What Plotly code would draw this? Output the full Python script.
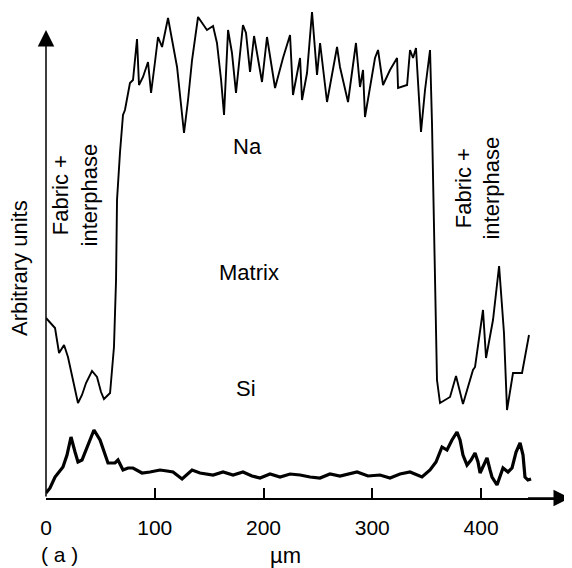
import plotly.graph_objects as go

# Na profile (upper curve), position in µm and intensity in arbitrary units
na_x = [0, 3.7, 8.3, 12, 16.6, 20.2, 24.8, 29.4, 33.1, 36.8, 42.3, 46.9, 50.6, 53.3, 58.9,
        62.5, 64.4, 65.3, 68, 70.8, 72.6, 77.2, 80, 83.7, 85.5, 89.2, 93.8, 96.6, 100.2,
        103, 106.7, 112.2, 120.5, 126.9, 130.6, 134.3, 139.8, 148, 153.6, 157.2, 161,
        163.7, 167.4, 171, 174.7, 181.1, 183.9, 187.6, 191.3, 198.6, 203.2, 210.6, 217.9,
        224.4, 227.1, 233.6, 235.4, 240, 244.6, 249.2, 252, 258.4, 267.6, 270.3, 277.7,
        285, 288.7, 291.5, 293.3, 302.5, 305.3, 309.9, 316.3, 322.8, 323.7, 332, 334.7,
        337.5, 340.2, 344.8, 348.5, 353.1, 354.9, 357.7, 359.5, 362.3, 371.5, 377, 383.4,
        392.6, 394.5, 401.8, 404.6, 411, 416.6, 421.1, 423.9, 429.4, 437.7, 444.1]
na_y = [180, 176, 170, 145, 153, 141, 118, 95, 103, 115, 127, 121, 106, 99, 105,
        151, 218, 298, 345, 383, 388, 415, 418, 459, 413, 421, 436, 405, 436,
        461, 451, 480, 431, 365, 398, 438, 481, 468, 472, 455, 418,
        383, 468, 445, 405, 473, 465, 426, 462, 416, 461, 410, 440,
        463, 403, 440, 398, 425, 486, 423, 455, 396, 451, 431, 396,
        455, 411, 428, 381, 440, 448, 413, 428, 440, 410, 413, 448,
        440, 450, 366, 408, 448, 375, 198, 118, 95, 101, 122, 94,
        128, 131, 188, 140, 178, 232, 165, 88, 125, 125, 163]

# Si profile (lower curve)
si_x = [0, 3.7, 8.3, 15.6, 19.3, 23, 26.7, 29.4, 33.1, 36.8, 40.5, 44.1, 49.7, 53.3, 57,
        63.4, 66.2, 70.8, 75.4, 80, 88.3, 95.6, 104.8, 111.3, 116.8, 125.1, 129.7, 134.3,
        141.6, 153.6, 162.8, 172, 181.1, 189.4, 196.8, 206, 215.2, 224.4, 233.6, 242.8,
        251.9, 261.1, 270.3, 286, 296.1, 307.1, 316.3, 325.5, 334.7, 345.7, 353.1, 358.6,
        364.1, 368.7, 373.3, 377.9, 380.7, 383.4, 387.1, 390.8, 394.5, 397.2, 399.1, 402.8,
        405.5, 408.3, 410.1, 414.7, 417.5, 420.2, 424.8, 428.5, 432.2, 435.9, 438.6, 440.4,
        443.1, 446]
si_y = [5, 10, 21, 31, 43, 61, 46, 36, 38, 48, 60, 68, 58, 46, 35,
        35, 38, 28, 30, 30, 25, 26, 28, 27, 26, 19, 24, 28,
        25, 23, 26, 23, 26, 22, 20, 24, 21, 24, 23, 21,
        20, 24, 22, 26, 22, 23, 20, 24, 26, 21, 28, 36,
        51, 48, 58, 66, 58, 43, 33, 38, 45, 36, 25, 33,
        40, 28, 21, 13, 23, 30, 26, 30, 46, 55, 43, 21,
        18, 19]

x_ticks = [0, 100, 200, 300, 400]
x_tick_labels = ["0", "100", "200", "300", "400"]

FONT = "Liberation Sans, Arial, Helvetica, sans-serif"
X_END = 481.8
Y_TOP = 468

fig = go.Figure()
fig.add_trace(go.Scatter(x=na_x, y=na_y, mode="lines", name="Na",
                         line=dict(color="black", width=1.9), showlegend=False))
fig.add_trace(go.Scatter(x=si_x, y=si_y, mode="lines", name="Si",
                         line=dict(color="black", width=3.2), showlegend=False))

fig.update_xaxes(range=[0, X_END], showgrid=False, zeroline=False,
                 showline=True, linecolor="black", linewidth=1.5,
                 ticks="inside", ticklen=10, tickwidth=1.5, tickcolor="black",
                 tickvals=x_ticks, ticktext=x_tick_labels, ticklabelstandoff=10,
                 tickfont=dict(family=FONT, size=21, color="black"))
fig.update_yaxes(range=[0, 490], showgrid=False, zeroline=False, showline=False,
                 showticklabels=False, ticks="")

# axis arrows
fig.add_annotation(x=0, y=Y_TOP, ax=0, ay=0, xref="x", yref="y", axref="x", ayref="y",
                   text="", showarrow=True, arrowhead=2, arrowsize=2.2, arrowwidth=1.5,
                   arrowcolor="black")
fig.add_annotation(x=X_END, y=0, ax=X_END - 40, ay=0, xref="x", yref="y", axref="x", ayref="y",
                   text="", showarrow=True, arrowhead=2, arrowsize=2.2, arrowwidth=1.5,
                   arrowcolor="black")

lab = dict(family=FONT, size=22, color="black")
c = dict(showarrow=False, xanchor="center", yanchor="middle")
fig.add_annotation(x=185.7, y=352, xref="x", yref="y", text="Na", font=lab, **c)
fig.add_annotation(x=186.7, y=226, xref="x", yref="y", text="Matrix", font=lab, **c)
fig.add_annotation(x=184, y=110, xref="x", yref="y", text="Si", font=lab, **c)
fig.add_annotation(x=27.1, y=303, xref="x", yref="y", text="Fabric +<br>interphase",
                   textangle=-90, font=lab, align="center", **c)
fig.add_annotation(x=396.8, y=310, xref="x", yref="y", text="Fabric +<br>interphase",
                   textangle=-90, font=lab, align="center", **c)
fig.add_annotation(x=-0.0515, y=230, xref="paper", yref="y", text="Arbitrary units",
                   textangle=-90, font=lab, **c)
fig.add_annotation(x=0.0267, y=-0.1163, xref="paper", yref="paper", text="( a )",
                   font=dict(family=FONT, size=21, color="black"), **c)
fig.add_annotation(x=0.458, y=-0.118, xref="paper", yref="paper", text="µm",
                   font=lab, **c)

# the page body adds an 8 px offset, so the figure is 8 px smaller with shifted margins
fig.update_layout(width=564, height=560, margin=dict(l=38, r=2, t=0, b=70),
                  plot_bgcolor="white", paper_bgcolor="white")
fig.write_html("out.html")
